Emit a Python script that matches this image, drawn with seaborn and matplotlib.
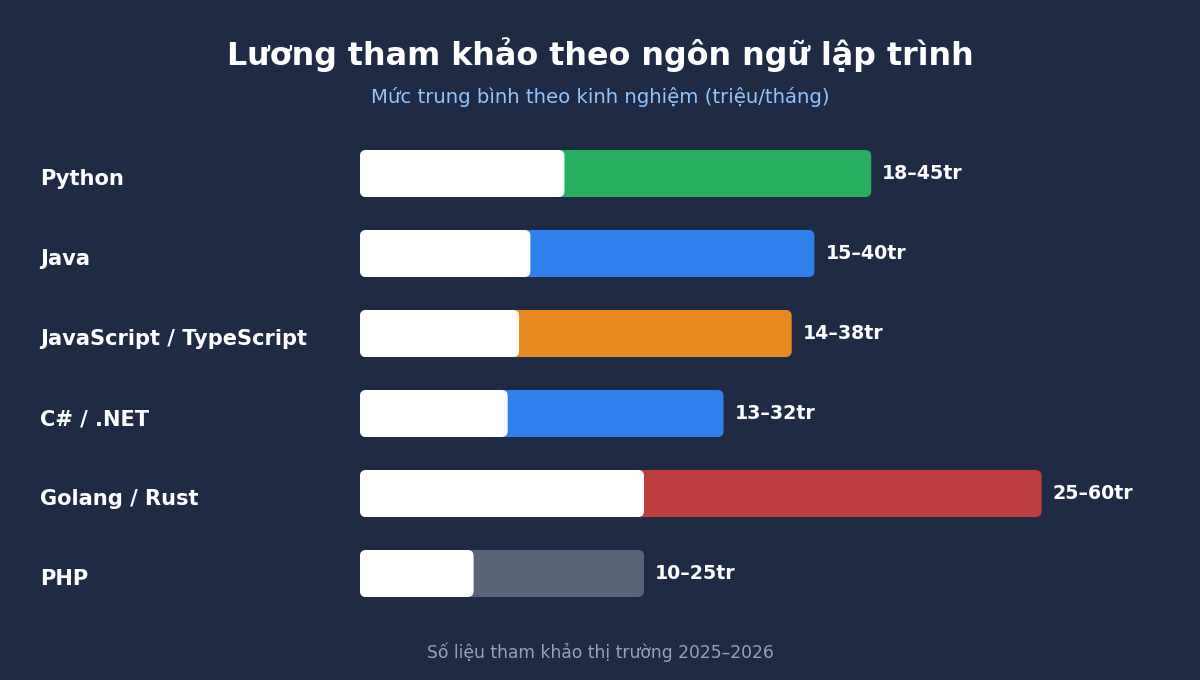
import matplotlib
matplotlib.use("Agg")
import matplotlib.pyplot as plt
import matplotlib.transforms as mtransforms
from matplotlib.patches import FancyBboxPatch
import seaborn as sns
import pandas as pd

# === Data ===
languages = ["Python", "Java", "JavaScript / TypeScript", "C# / .NET", "Golang / Rust", "PHP"]
salary_low = [18, 15, 14, 13, 25, 10]
salary_high = [45, 40, 38, 32, 60, 25]
bar_colors = ["#27ae60", "#2f80ed", "#e8891f", "#2f80ed", "#bf3d3d", "#5a6478"]
value_labels = [f"{lo}–{hi}tr" for lo, hi in zip(salary_low, salary_high)]

title = "Lương tham khảo theo ngôn ngữ lập trình"
subtitle = "Mức trung bình theo kinh nghiệm (triệu/tháng)"
footer = "Số liệu tham khảo thị trường 2025–2026"

bg = "#1f2a44"

df = pd.DataFrame({"lang": languages, "low": salary_low, "high": salary_high})

sns.set_theme(style="white")
plt.rcParams["font.family"] = ["DejaVu Sans"]

fig = plt.figure(figsize=(12, 6.8), dpi=100, facecolor=bg)
ax = fig.add_axes([0.3, 1 - 613.5 / 680, 0.7, 480 / 680])
ax.set_facecolor(bg)

bar_h = 47 / 80
sns.barplot(data=df, y="lang", x="high", hue="lang", palette=bar_colors,
            legend=False, width=bar_h, ax=ax, orient="h", saturation=1)
sns.barplot(data=df, y="lang", x="low", color="white",
            width=bar_h, ax=ax, orient="h", saturation=1)

xmax = 840 / (681.6 / 60)
ax.set_xlim(0, xmax)
ax.set_ylim(5.5, -0.5)

# rounded corners: swap rectangles for fancy boxes
px_x = 840 / xmax
px_y = 80
radius_px = 6
patches = list(ax.patches)
for p in patches:
    x, y = p.get_x(), p.get_y()
    w, h = p.get_width(), p.get_height()
    fc = p.get_facecolor()
    z = p.get_zorder()
    p.remove()
    fb = FancyBboxPatch((x, y), w, h,
                        boxstyle=f"round,pad=0,rounding_size={radius_px / px_x}",
                        mutation_aspect=px_x / px_y,
                        facecolor=fc, edgecolor="none", zorder=z)
    ax.add_patch(fb)

for s in ax.spines.values():
    s.set_visible(False)
ax.set_xticks([])
ax.set_yticks([])
ax.set_xlabel("")
ax.set_ylabel("")

# category labels on the left
trans = mtransforms.blended_transform_factory(fig.transFigure, ax.transData)
for i, lang in enumerate(languages):
    ax.text(40 / 1200, i + 0.07, lang, transform=trans, ha="left", va="center",
            color="white", fontsize=15.1, fontweight="bold")
    ax.text(salary_high[i] + 11 / px_x, i, value_labels[i], ha="left", va="center",
            color="white", fontsize=13.7, fontweight="bold")

fig.text(0.5, 1 - 55 / 680, title, ha="center", va="center",
         color="white", fontsize=22.9, fontweight="bold")
fig.text(0.5, 1 - 97 / 680, subtitle, ha="center", va="center",
         color="#93c5fd", fontsize=14.2)
fig.text(0.5, 1 - 652 / 680, footer, ha="center", va="center",
         color="#94a3b8", fontsize=12.3)

fig.savefig("out.png", dpi=100, facecolor=bg)
